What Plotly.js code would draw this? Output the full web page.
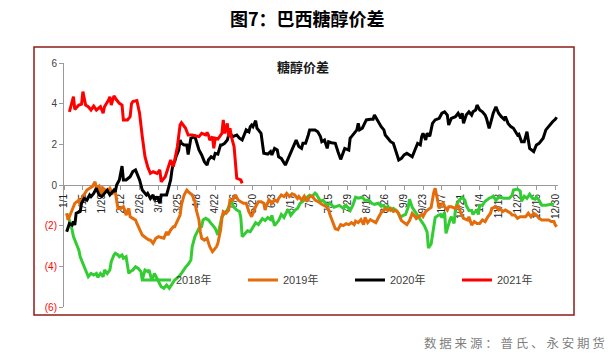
<!DOCTYPE html>
<html>
<head>
<meta charset="utf-8">
<script src="https://cdn.plot.ly/plotly-3.0.1.min.js"></script>
<style>html,body{margin:0;padding:0;background:#fff;}#chart{width:613px;height:353px;}</style>
</head>
<body>
<div id="chart"></div>
<script>
// x positions are days after 1/1 (calendar of a leap year, axis ticks every 14 days)
const tickDays = [0,14,28,42,56,70,84,98,112,126,140,154,168,182,196,210,224,238,252,266,280,294,308,322,336,350,364];
const tickLabels = ['1/1','1/15','1/29','2/12','2/26','3/11','3/25','4/8','4/22','5/6','5/20','6/3','6/17','7/1','7/15','7/29','8/12','8/26','9/9','9/23','10/7','10/21','11/4','11/18','12/2','12/16','12/30'];
const yTickVals = [-6,-4,-2,0,2,4,6];
const yTickLabels = ['(6)','(4)','(2)','0','2','4','6'];
const seriesNames = ['2018年','2019年','2020年','2021年'];

const days2018 = [2,4,6,7,9,11,12,14,16,18,20,22,24,25,27,29,30,32,34,35,37,38,40,41,43,44,46,48,49,51,53,55,57,58,60,62,63,65,67,69,71,72,74,76,78,80,82,85,87,90,92,94,95,97,98,100,102,103,105,107,109,111,112,114,116,117,119,121,122,124,125,126,128,130,131,132,134,136,138,140,142,144,145,147,149,151,153,154,156,158,159,161,163,164,166,168,169,171,173,175,177,179,181,182,184,186,187,190,192,195,197,200,202,204,207,209,212,214,216,218,221,223,226,228,230,233,235,237,238,240,242,244,247,249,251,253,255,256,258,260,261,264,266,267,269,270,272,274,275,277,279,280,282,283,285,286,287,289,290,291,293,295,297,298,300,302,303,304,306,307,308,310,312,313,315,317,318,320,322,326,330,332,333,336,338,339,341,343,345,347,349,350,352,354,357,361,363];
const vals2018 = [-1.39,-1.72,-2.21,-2.54,-2.87,-3.2,-3.53,-3.85,-4.18,-4.51,-4.35,-4.43,-4.35,-4.54,-4.35,-4.51,-4.18,-4.35,-4.18,-3.77,-3.44,-3.36,-3.44,-3.53,-3.44,-3.61,-3.53,-4.35,-4.26,-4.18,-4.02,-4.1,-4.26,-4.67,-4.18,-4.26,-4.18,-4.67,-4.35,-4.59,-4.84,-5.0,-5.08,-4.92,-5.08,-4.84,-4.67,-4.51,-4.35,-4.05,-3.9,-3.69,-3.03,-2.54,-2.38,-2.13,-2.05,-1.72,-1.64,-1.72,-1.89,-2.05,-2.13,-2.46,-1.89,-1.56,-1.39,-1.23,-1.07,-0.74,-0.98,-1.1,-1.23,-1.3,-1.6,-2.54,-2.4,-2.25,-2.3,-2.1,-1.85,-1.95,-1.85,-1.65,-1.75,-1.6,-1.7,-1.5,-2.0,-1.85,-1.75,-1.45,-1.6,-1.45,-1.2,-1.5,-1.4,-1.25,-1.15,-0.9,-0.8,-0.65,-0.55,-0.5,-0.55,-0.4,-0.45,-0.8,-0.75,-1.0,-0.9,-1.1,-1.05,-1.0,-1.15,-1.0,-1.25,-1.0,-0.6,-0.65,-0.6,-0.75,-0.75,-0.9,-0.95,-0.9,-1.05,-1.0,-1.15,-1.05,-1.25,-1.15,-1.3,-1.6,-1.5,-1.45,-1.1,-0.7,-1.1,-1.3,-1.4,-1.65,-1.85,-2.0,-2.3,-3.1,-2.9,-1.9,-1.6,-1.5,-1.45,-1.6,-1.35,-2.38,-1.85,-1.7,-1.56,-1.89,-1.2,-0.95,-0.74,-0.6,-0.75,-1.0,-1.25,-1.25,-1.45,-1.35,-1.25,-1.45,-1.0,-1.0,-0.8,-0.75,-0.65,-0.6,-0.55,-0.75,-0.6,-0.65,-0.65,-0.5,-0.25,-0.2,-0.3,-0.8,-0.55,-0.65,-0.45,-0.65,-0.7,-0.6,-0.75,-1.0,-1.0,-0.95,-0.95];

const days2019 = [2,3,4,6,8,11,12,14,16,17,19,21,23,24,26,28,29,32,34,36,38,39,40,42,44,45,46,48,49,51,53,54,56,58,61,63,64,66,68,70,72,74,76,77,79,81,82,84,86,87,89,91,92,95,97,98,100,101,102,104,106,108,110,111,113,114,116,117,118,120,122,123,125,127,129,131,133,135,137,139,140,142,144,146,148,149,150,152,154,156,158,159,161,163,165,167,169,171,173,174,176,178,180,182,184,186,189,191,194,196,197,199,201,203,205,207,209,211,213,215,216,218,220,222,223,225,227,229,231,233,235,237,238,240,242,244,246,248,250,252,254,256,257,258,260,261,263,265,266,268,270,272,274,275,276,278,279,281,282,284,285,287,290,292,294,296,299,300,302,304,306,308,310,312,314,316,317,320,322,323,325,327,329,331,332,334,336,338,340,342,344,346,348,350,352,354,357,359,361,363,364,365];
const vals2019 = [-1.4,-1.72,-1.56,-1.23,-0.9,-0.74,-0.98,-0.57,-0.33,-0.25,-0.16,-0.08,0.16,-0.16,-0.05,-0.49,-0.16,-0.33,-0.16,-0.41,-0.33,-0.74,-1.15,-1.15,-1.07,-1.23,-1.48,-1.15,-1.56,-1.64,-1.72,-1.89,-2.21,-2.46,-2.62,-2.71,-2.71,-2.87,-2.62,-2.54,-2.58,-2.62,-2.3,-2.46,-2.21,-2.05,-2.05,-1.72,-1.48,-0.98,-0.49,-0.25,-0.33,-0.49,-0.82,-1.23,-1.72,-2.3,-2.62,-2.71,-2.62,-3.03,-3.28,-3.2,-3.03,-2.87,-2.21,-1.64,-1.31,-1.39,-1.23,-0.74,-0.74,-0.49,-0.74,-0.82,-0.9,-0.9,-1.31,-1.56,-1.39,-1.07,-0.82,-0.82,-0.9,-1.23,-0.98,-0.74,-0.9,-0.74,-0.82,-0.66,-0.49,-0.57,-0.41,-0.57,-0.43,-0.49,-0.66,-0.57,-0.74,-0.55,-0.82,-0.57,-0.55,-0.74,-0.85,-0.95,-1.05,-1.2,-1.45,-1.85,-2.15,-2.2,-1.95,-2.0,-1.9,-1.95,-1.85,-1.95,-1.78,-1.85,-1.7,-1.95,-1.6,-1.85,-1.7,-1.78,-1.85,-1.6,-1.35,-1.25,-1.15,-1.25,-1.15,-1.3,-1.25,-1.4,-1.75,-1.85,-1.95,-1.75,-1.55,-1.4,-1.55,-1.65,-1.55,-1.45,-1.55,-1.3,-1.2,-1.1,-0.35,-0.16,-0.49,-1.15,-0.98,-0.9,-1.07,-1.23,-1.07,-1.07,-1.15,-0.98,-1.39,-1.64,-1.72,-1.56,-1.97,-1.8,-1.89,-1.89,-1.72,-1.8,-1.56,-1.39,-1.15,-1.07,-1.23,-1.15,-1.31,-1.23,-1.31,-1.39,-1.48,-1.48,-1.64,-1.56,-1.56,-1.56,-1.39,-1.56,-1.39,-1.48,-1.64,-1.72,-1.72,-1.72,-1.8,-1.8,-1.97,-2.05];

const days2020 = [2,4,6,7,8,9,12,13,15,17,19,20,22,24,26,28,30,32,34,37,38,39,41,42,43,44,46,49,51,53,54,56,58,61,62,64,66,67,69,71,72,74,76,77,79,80,81,82,83,85,86,87,89,91,92,94,97,100,102,104,106,107,109,111,112,114,116,117,119,121,122,123,125,128,130,132,134,135,137,138,139,140,142,143,144,146,148,151,153,154,156,158,159,161,164,166,168,170,172,174,176,177,179,181,182,186,188,190,191,193,195,196,198,201,202,203,205,207,208,211,212,213,215,217,218,219,221,223,224,227,229,230,232,233,235,237,238,240,242,244,246,248,250,252,254,256,258,260,262,264,265,266,268,269,271,273,275,278,280,282,284,285,287,290,292,294,295,296,298,300,302,303,305,306,308,310,312,313,315,317,318,320,322,324,326,327,329,331,333,336,337,339,341,343,344,345,348,350,352,354,355,357,359,360,362,364,365];
const vals2020 = [-2.3,-1.89,-1.97,-1.8,-1.97,-1.39,-1.3,-0.9,-0.66,-0.74,-0.49,-0.57,-0.41,-0.16,-0.49,-0.57,-0.41,-0.25,-0.49,-0.25,-0.33,0,0.25,0.57,0.93,0.25,0.25,0.41,0.66,0.74,0.57,0.25,-0.25,-0.49,-0.41,-0.66,-0.49,-0.74,-0.57,-0.9,-0.49,-0.49,-0.49,-0.25,0.25,0.74,1.07,1.15,1.39,1.72,2.21,2.05,1.97,1.97,1.5,2.3,2.38,1.72,1.48,1.15,0.98,1.23,1.39,1.31,1.56,1.52,1.97,1.97,2.05,2.21,2.46,2.54,2.38,2.46,2.3,2.21,2.54,2.71,2.62,2.87,2.95,2.87,3.16,2.79,2.71,2.54,1.56,1.52,1.64,1.48,1.8,1.72,1.39,1.31,0.98,1.31,1.64,1.97,2.21,1.89,1.8,2.05,2.05,2.46,2.71,2.71,2.62,2.38,2.13,2.21,1.8,2.13,2.08,2.05,1.89,1.64,1.26,1.56,1.8,1.72,2.3,2.38,2.54,2.71,3.03,2.71,2.79,3.03,3.2,3.23,3.23,3.44,3.2,3.11,2.87,2.71,2.46,2.3,2.13,2.05,1.64,1.23,1.31,1.48,1.56,1.48,1.39,1.72,2.05,1.97,2.38,2.54,2.21,2.54,2.4,3.03,3.2,3.28,3.53,3.6,3.44,2.95,3.28,3.36,3.53,3.28,3.53,3.03,3.44,3.6,3.44,3.6,3.69,3.93,3.69,3.6,3.44,3.28,2.79,3.28,3.53,3.85,3.53,3.36,3.23,3.36,3.03,2.87,2.79,2.46,2.5,2.13,2.13,2.62,2.13,1.8,1.64,1.97,2.05,2.21,2.3,2.71,2.87,2.99,3.11,3.23,3.33];

const days2021 = [4,6,7,8,11,13,14,16,18,20,22,24,27,29,30,33,34,35,37,39,41,43,44,47,49,50,51,54,56,58,60,62,64,66,69,71,72,75,77,79,81,84,86,87,90,92,95,100,102,105,106,107,108,110,111,112,114,116,117,118,119,121,122,123,124,126,127,128,131,132];
const vals2021 = [3.6,4.18,4.34,3.72,3.93,3.98,4.59,3.93,3.85,3.69,3.88,3.69,3.85,3.53,3.85,4.18,4.34,3.93,4.38,4.18,4.02,3.93,3.2,3.2,3.36,4.0,4.1,4.15,3.53,2.38,1.39,0.9,0.57,0.65,0.57,0.74,0.16,0.41,0.82,1.23,0.9,1.88,2.95,3.06,2.8,2.46,2.46,2.38,2.54,2.46,2.58,2.46,2.21,2.38,1.8,2.3,2.26,2.43,2.54,3.2,2.54,3.03,2.38,2.79,2.38,1.89,1.23,0.33,0.25,0.08];

const colors = ['#33CC33','#E46C0A','#000000','#FF0000'];
const xs = [days2018, days2019, days2020, days2021];
const ys = [vals2018, vals2019, vals2020, vals2021];

const traces = seriesNames.map((n, i) => ({
  type: 'scatter', mode: 'lines', name: n,
  x: xs[i], y: ys[i],
  line: {color: colors[i], width: 3},
  hoverinfo: 'skip'
}));

const yTickText = yTickLabels.map((t, i) => yTickVals[i] < 0 ? '<span style="color:#FF0000">' + t + '</span>' : t);

const layout = {
  width: 613, height: 353,
  margin: {l: 64, r: 55, t: 63, b: 46},
  paper_bgcolor: '#ffffff', plot_bgcolor: '#ffffff',
  font: {family: 'Liberation Sans, Arial, "Noto Sans CJK SC", sans-serif', size: 10, color: '#404040'},
  showlegend: true,
  legend: {
    orientation: 'h', x: 0.1457, xanchor: 'left', y: 0.17, yanchor: 'top',
    font: {size: 11, color: '#404040', family: 'Liberation Sans, "Noto Sans CJK SC", sans-serif'},
    bgcolor: 'rgba(0,0,0,0)', entrywidth: 62, itemwidth: 30, traceorder: 'normal'
  },
  xaxis: {
    type: 'linear', range: [0, 366], anchor: 'free', position: 0.5,
    tickmode: 'array', tickvals: tickDays, ticktext: tickLabels, tickangle: -90,
    showline: true, linecolor: '#9A9A9A', linewidth: 1,
    ticks: 'outside', ticklen: 4, tickcolor: '#9A9A9A',
    showgrid: false, zeroline: false, layer: 'below traces',
    tickfont: {size: 10, color: '#262626'}, fixedrange: true
  },
  yaxis: {
    range: [-6, 6], tickmode: 'array', tickvals: yTickVals, ticktext: yTickText,
    showline: true, linecolor: '#9A9A9A', linewidth: 1,
    ticks: 'outside', ticklen: 4, tickcolor: '#9A9A9A',
    showgrid: false, zeroline: false, layer: 'below traces',
    tickfont: {size: 10, color: '#404040'}, fixedrange: true
  },
  shapes: [{
    type: 'rect', xref: 'paper', yref: 'paper',
    x0: -0.0607, x1: 1.0324, y0: -0.0328, y1: 1.0656,
    line: {color: '#8E1B1B', width: 1.5}, fillcolor: 'rgba(0,0,0,0)', layer: 'below'
  }],
  annotations: [
    {text: '<b>图7：巴西糖醇价差</b>', xref: 'paper', yref: 'paper', x: 0.492, y: 1.184,
     xanchor: 'center', yanchor: 'middle', showarrow: false,
     font: {size: 18, color: '#000000', family: '"Noto Sans CJK SC", sans-serif'}},
    {text: '<b>糖醇价差</b>', xref: 'paper', yref: 'paper', x: 0.484, y: 0.9877,
     xanchor: 'center', yanchor: 'middle', showarrow: false,
     font: {size: 13, color: '#1a1a1a', family: '"Noto Sans CJK SC", sans-serif'}},
    {text: '数 据 来 源 ： 普 氏 、 永 安 期 货', xref: 'paper', yref: 'paper', x: 1.099, y: -0.1475,
     xanchor: 'right', yanchor: 'middle', showarrow: false,
     font: {size: 12.5, color: '#7F7F7F', family: '"Noto Sans CJK SC", sans-serif'}}
  ]
};

Plotly.newPlot('chart', traces, layout, {displayModeBar: false, staticPlot: true});
</script>
</body>
</html>
